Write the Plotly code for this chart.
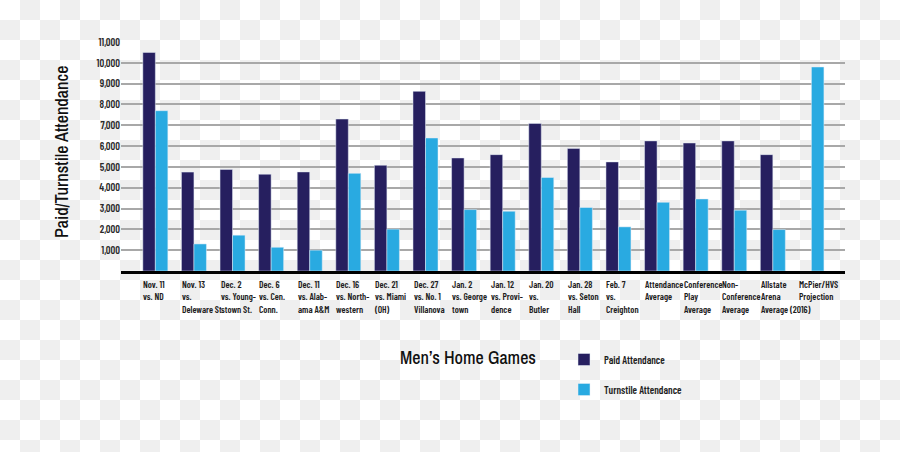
import base64
import plotly.graph_objects as go

# ---------------- data ----------------
categories = ["Nov 11", "Nov 13", "Dec 2", "Dec 6", "Dec 11", "Dec 16", "Dec 21",
              "Dec 27", "Jan 2", "Jan 12", "Jan 20", "Jan 28", "Feb 7",
              "Attendance Average", "Conference Play Average",
              "Non-Conference Average", "Allstate Arena Average (2016)",
              "McPier/HVS Projection"]
tick_labels = ["Nov. 11<br>vs. ND", "Nov. 13<br>vs.<br>Deleware St.",
               "Dec. 2<br>vs. Young-<br>stown St.", "Dec. 6<br>vs. Cen.<br>Conn.",
               "Dec. 11<br>vs. Alab-<br>ama A&M", "Dec. 16<br>vs. North-<br>western",
               "Dec. 21<br>vs. Miami<br>(OH)", "Dec. 27<br>vs. No. 1<br>Villanova",
               "Jan. 2<br>vs. George<br>town", "Jan. 12<br>vs. Provi-<br>dence",
               "Jan. 20<br>vs.<br>Butler", "Jan. 28<br>vs. Seton<br>Hall",
               "Feb. 7<br>vs.<br>Creighton", "Attendance<br>Average",
               "Conference<br>Play<br>Average", "Non-<br>Conference<br>Average",
               "Allstate<br>Arena<br>Average (2016)", "McPier/HVS<br>Projection"]
paid = [10500, 4750, 4880, 4650, 4760, 7300, 5080, 8630, 5430, 5590, 7090,
        5890, 5240, 6250, 6150, 6250, 5590, None]
turnstile = [7700, 1300, 1720, 1140, 1000, 4690, 2010, 6390, 2950, 2870, 4490,
             3050, 2120, 3300, 3460, 2920, 1990, 9800]
y_ticks = [1000, 2000, 3000, 4000, 5000, 6000, 7000, 8000, 9000, 10000, 11000]

PAID_COLOR = "#261f5f"
TURN_COLOR = "#29aae1"
FONT = "Archivo Narrow, Roboto Condensed, Liberation Sans Narrow, sans-serif"
SMALL = "Barlow Condensed, Archivo Narrow, Roboto Condensed, sans-serif"

W, H = 900, 452
ML, MR, MT, MB = 121, 55, 42, 181
PW, PH = W - ML - MR, H - MT - MB

fig = go.Figure()
fig.add_trace(go.Bar(x=categories, y=paid, name="Paid Attendance",
                     marker_color=PAID_COLOR, legendgroup="a"))
fig.add_trace(go.Bar(x=categories, y=turnstile, name="Turnstile Attendance",
                     marker_color=TURN_COLOR, legendgroup="b"))

# category labels, left-aligned under each group
for cat, lab in zip(categories, tick_labels):
    fig.add_annotation(x=cat, xref="x", y=0, yref="paper", text=lab,
                       showarrow=False, xanchor="left", yanchor="top",
                       align="left", xshift=-14, yshift=-5,
                       font=dict(family=SMALL, size=9.5, color="#1e1e1e", weight=600))

# y-axis title
fig.add_annotation(x=(61 - ML) / PW, xref="paper", y=(MT + PH - 152) / PH,
                   yref="paper", text="Paid/Turnstile Attendance", textangle=-90,
                   showarrow=False, xanchor="center", yanchor="middle",
                   font=dict(family=FONT, size=18, color="#111", weight=500))

# transparent-style checkerboard backdrop
svg = ('<svg xmlns="http://www.w3.org/2000/svg" width="900" height="452">'
       '<defs><pattern id="p" width="40" height="40" patternUnits="userSpaceOnUse">'
       '<rect width="40" height="40" fill="#ffffff"/>'
       '<rect x="20" y="0" width="20" height="20" fill="#efefef"/>'
       '<rect x="0" y="20" width="20" height="20" fill="#efefef"/>'
       '</pattern></defs><rect width="900" height="452" fill="url(#p)"/></svg>')
src = "data:image/svg+xml;base64," + base64.b64encode(svg.encode()).decode()
fig.add_layout_image(source=src, xref="paper", yref="paper",
                     x=-ML / PW, y=1 + MT / PH, sizex=W / PW, sizey=H / PH,
                     xanchor="left", yanchor="top", sizing="stretch",
                     layer="below")

fig.update_layout(
    width=W, height=H,
    margin=dict(l=ML, r=MR, t=MT, b=MB, pad=0),
    paper_bgcolor="white", plot_bgcolor="rgba(0,0,0,0)",
    barmode="group", bargap=0.352, bargroupgap=0,
    font=dict(family=FONT, color="#222"),
    title=dict(text="Men’s Home Games", x=468 / W, xref="container",
               y=1 - 358 / H, yref="container", xanchor="center",
               yanchor="middle",
               font=dict(family=FONT, size=18, color="#111", weight=500)),
    legend=dict(x=(564 - ML) / PW, xanchor="left", y=(MT + PH - 345) / PH,
                yanchor="top", traceorder="grouped", tracegroupgap=11,
                bgcolor="rgba(0,0,0,0)",
                font=dict(family=SMALL, size=10.5, color="#1e1e1e", weight=600)),
    showlegend=True,
)
fig.update_xaxes(range=[-0.89, 17.87], showticklabels=False, showgrid=False,
                 showline=True, linecolor="black", linewidth=3, ticks="")
fig.update_yaxes(range=[0, 11000], tickvals=y_ticks, tickformat=",d",
                 showgrid=True, gridcolor="#a8a8a8", gridwidth=1.5,
                 zeroline=False, showline=False, ticks="",
                 tickfont=dict(family=SMALL, size=10.5, color="#2a2a2a", weight=600))

fig.write_html("out.html")
